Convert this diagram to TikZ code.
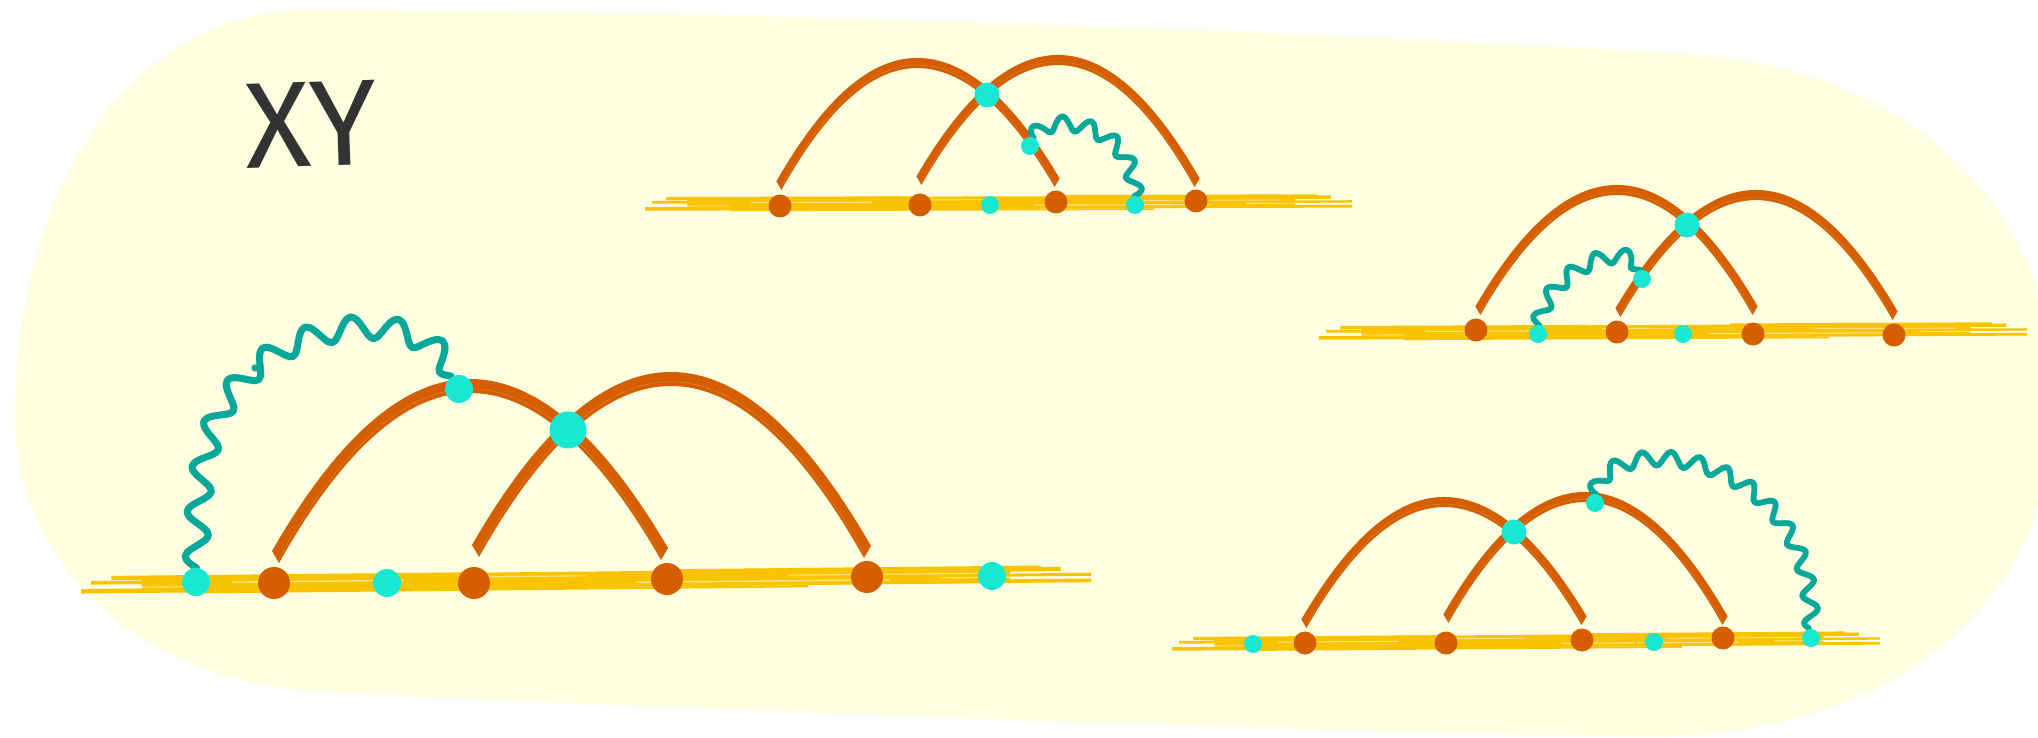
\documentclass[tikz,border=0pt]{standalone}
\usepackage{fontspec}
\newfontfamily\labelfont{Fira Sans}
\usetikzlibrary{calc,decorations}

\definecolor{paper}{HTML}{FEFEE0}
\definecolor{rail}{HTML}{F9C300}
\definecolor{arcorange}{HTML}{D55E00}
\definecolor{vertexcyan}{HTML}{18E8D2}
\definecolor{photon}{HTML}{0AA89B}
\definecolor{ink}{HTML}{333333}

\pgfdeclarelayer{backdrop}
\pgfdeclarelayer{lines}
\pgfsetlayers{backdrop,lines,main}

% a sine wave laid along its path by arc length (whole number of half waves),
% built from closely spaced round beads so that it can simply be filled
\def\beadradius{2.5pt}
\pgfdeclaredecoration{photonbeads}{run}{
  \state{run}[width=1pt]{%
    \pgfmathparse{max(1,round(2*\pgfdecoratedpathlength/\pgfdecorationsegmentlength))}%
    \let\hwaves\pgfmathresult
    \pgfmathsetlengthmacro\wy{\pgfdecorationsegmentamplitude*sin(180*\hwaves*(\pgfdecoratedcompleteddistance/\pgfdecoratedpathlength))}%
    \pgfpathcircle{\pgfpoint{0pt}{\wy}}{\beadradius}%
  }
  \state{final}{\pgfpathcircle{\pgfpointorigin}{\beadradius}}
}

\tikzset{
  odot/.style={circle, fill=arcorange, inner sep=0pt, minimum size=#1},
  cdot/.style={circle, fill=vertexcyan, inner sep=0pt, minimum size=#1},
  bigwave/.style={fill=photon, /utils/exec={\def\beadradius{3.7pt}}, decorate,
    decoration={photonbeads, amplitude=11pt, segment length=44pt}},
  smallwave/.style={fill=photon, /utils/exec={\def\beadradius{3.1pt}}, decorate,
    decoration={photonbeads, amplitude=7pt, segment length=28pt}},
}

% one straight brush hair: fractions #3..#4 of the rail #1--#2, offset #5, width #6, factor #7
\newcommand\railhair[8]{%
  \fill[#8] ($(#1)!#3!(#2)+(0,{((#5)-(#6)/2)*(#7)})$) -- ($(#1)!#4!(#2)+(0,{((#5)-(#6)/2)*(#7)})$)
    -- ($(#1)!#4!(#2)+(0,{((#5)+(#6)/2)*(#7)})$) -- ($(#1)!#3!(#2)+(0,{((#5)+(#6)/2)*(#7)})$) -- cycle;%
}
% brushed horizontal rail between two named coordinates, #3 = thickness factor
\newcommand\railbrush[3]{%
  \foreach \ps/\pe/\po/\pw in {0.06/0.92/0/10, 0/0.52/-4.5/3.2, 0.03/0.38/4.8/3,
      0.3/0.97/4.5/3, 0.46/1/-3.8/2.6, 0.12/0.72/-6/1.6, 0.58/0.95/6.3/1.6,
      0.01/0.2/1.5/2.5, 0.88/1/0.5/2.2}
    {\railhair{#1}{#2}{\ps}{\pe}{\po}{\pw}{#3}{rail}}
  \foreach \ps/\pe/\po/\pw in {0.15/0.32/1/1, 0.55/0.8/-2/1, 0.4/0.5/3/0.8,
      0.7/0.9/2/0.8, 0.03/0.12/-2/0.8, 0.85/0.97/-1/0.8}
    {\railhair{#1}{#2}{\ps}{\pe}{\po}{\pw}{#3}{paper, opacity=0.6}}
}

% band between two half-parabola arches sharing the apex x=#5:
% upper arch #1 -> #2 with apex height #6, lower arch #3 -> #4 with apex height #7
\newcommand\arcband[8]{%
  \fill[#8] let \p1=(#1), \p2=(#2), \p3=(#3), \p4=(#4), \n1={#6}, \n2={#7} in
    (\p1) .. controls ({\x1+(#5-\x1)/3},{\y1+2*(\n1-\y1)/3}) and ({#5-(#5-\x1)/3},{\n1}) .. ({#5},{\n1})
          .. controls ({#5+(\x2-#5)/3},{\n1}) and ({\x2-(\x2-#5)/3},{\y2+2*(\n1-\y2)/3}) .. (\p2)
       -- (\p4) .. controls ({\x4-(\x4-#5)/3},{\y4+2*(\n2-\y4)/3}) and ({#5+(\x4-#5)/3},{\n2}) .. ({#5},{\n2})
          .. controls ({#5-(#5-\x3)/3},{\n2}) and ({\x3+(#5-\x3)/3},{\y3+2*(\n2-\y3)/3}) .. (\p3) -- cycle;%
}
% brushed arch from node #1 (shifted by #2) to node #5 (shifted by #6),
% apex x=#3 at depth #4 below the top edge; #7 = thickness factor
\newcommand\arcbrush[7]{%
  \arcband{$(#1)+(#2)+({-5*(#7)},{12*(#7)})$}{$(#5)+(#6)+({5*(#7)},{12*(#7)})$}
          {$(#1)+(#2)+({2*(#7)},0)$}{$(#5)+(#6)+({-2*(#7)},0)$}
          {#3}{-(#4)+7*(#7)}{-(#4)-7*(#7)}{arcorange}
  \arcband{$(#1)+(#2)+({0.5*(#7)},{2*(#7)})$}{$(#5)+(#6)+({-0.5*(#7)},{2*(#7)})$}
          {$(#1)+(#2)+({1*(#7)},{2*(#7)})$}{$(#5)+(#6)+({-1*(#7)},{2*(#7)})$}
          {#3}{-(#4)-2.5*(#7)}{-(#4)-3.1*(#7)}{paper, opacity=0.22}
}

\begin{document}
\begin{tikzpicture}[x=1pt,y=1pt]
\useasboundingbox (0,-738) rectangle (2038,0);

% ---------- rounded backdrop ----------
\begin{pgfonlayer}{backdrop}
\fill[paper] (310,-9) .. controls (800,-12) and (1400,-35) .. (1700,-55)
  .. controls (1900,-70) and (2055,-200) .. (2055,-400)
  .. controls (2055,-600) and (1900,-735) .. (1650,-737)
  .. controls (1200,-730) and (600,-705) .. (330,-693)
  .. controls (100,-680) and (15,-530) .. (15,-420)
  .. controls (15,-200) and (120,-12) .. (310,-9) -- cycle;

\coordinate (a-l) at (81,-585);   \coordinate (a-r) at (1091,-575);
\coordinate (b-l) at (645,-204);  \coordinate (b-r) at (1352,-202);
\coordinate (r-l) at (1319,-333); \coordinate (r-r) at (2027,-330);
\coordinate (d-l) at (1172,-644); \coordinate (d-r) at (1880,-639);
\railbrush{a-l}{a-r}{1.4}
\railbrush{b-l}{b-r}{1.1}
\railbrush{r-l}{r-r}{1.1}
\railbrush{d-l}{d-r}{1.1}
\end{pgfonlayer}

% ---------- title ----------
\node[text=ink, font=\labelfont\fontsize{122}{122}\selectfont, inner sep=0pt, rotate=2]
  (title) at (311,-124) {XY};

% ---------- large diagram ----------
\node[cdot=28pt] (a-c1) at (196,-582) {};
\node[odot=32pt] (a-o1) at (274,-583) {};
\node[cdot=28pt] (a-c2) at (387,-583) {};
\node[odot=32pt] (a-o2) at (474,-583) {};
\node[odot=32pt] (a-o3) at (667,-579) {};
\node[odot=32pt] (a-o4) at (867,-577) {};
\node[cdot=28pt] (a-c3) at (992,-576) {};
\node[cdot=37pt] (a-x) at (568,-430) {};
\node[cdot=28pt] (a-t) at (459,-389) {};

% ---------- upper diagram ----------
\node[odot=23pt] (b-o1) at (780,-206) {};
\node[odot=23pt] (b-o2) at (920,-205) {};
\node[cdot=18pt] (b-c1) at (990,-205) {};
\node[odot=23pt] (b-o3) at (1056,-202) {};
\node[cdot=18pt] (b-c2) at (1135,-205) {};
\node[odot=23pt] (b-o4) at (1196,-201) {};
\node[cdot=25pt] (b-x) at (987,-95) {};
\node[cdot=18pt] (b-t) at (1030,-146) {};

% ---------- right diagram ----------
\node[odot=23pt] (r-o1) at (1476,-330) {};
\node[cdot=18pt] (r-c1) at (1538,-334) {};
\node[odot=23pt] (r-o2) at (1617,-332) {};
\node[cdot=18pt] (r-c2) at (1683,-334) {};
\node[odot=23pt] (r-o3) at (1753,-334) {};
\node[odot=23pt] (r-o4) at (1894,-335) {};
\node[cdot=25pt] (r-x) at (1687,-225) {};
\node[cdot=18pt] (r-t) at (1642,-279) {};

% ---------- lower right diagram ----------
\node[cdot=18pt] (d-c1) at (1253,-644) {};
\node[odot=23pt] (d-o1) at (1305,-643) {};
\node[odot=23pt] (d-o2) at (1446,-643) {};
\node[odot=23pt] (d-o3) at (1582,-640) {};
\node[cdot=18pt] (d-c2) at (1654,-642) {};
\node[odot=23pt] (d-o4) at (1723,-638) {};
\node[cdot=18pt] (d-c3) at (1811,-638) {};
\node[cdot=25pt] (d-x) at (1514,-532) {};
\node[cdot=18pt] (d-t) at (1595,-503) {};

% ---------- arches and photon lines ----------
\begin{pgfonlayer}{lines}
\arcbrush{a-o1}{3,20}{470}{386}{a-o3}{-4,19}{1}
\arcbrush{a-o2}{3,26}{671}{379}{a-o4}{-1,19}{1}
\fill[bigwave] (a-c1) .. controls (198,-470) and (205,-410) .. (255,-368)
  .. controls (310,-320) and (425,-305) .. (a-t);

\arcbrush{b-o1}{0,16}{917}{63}{b-o3}{0,15}{0.72}
\arcbrush{b-o2}{0,20}{1058}{60}{b-o4}{0,14}{0.72}
\fill[smallwave] (b-t) .. controls (1045,-110) and (1135,-120) .. (b-c2);

\arcbrush{r-o1}{3,15}{1617}{190}{r-o3}{1,19}{0.72}
\arcbrush{r-o2}{2,15}{1756}{195}{r-o4}{0,15}{0.72}
\fill[smallwave] (r-c1) .. controls (1545,-270) and (1630,-235) .. (r-t);

\arcbrush{d-o1}{0,15}{1444}{502}{d-o3}{1,15}{0.72}
\arcbrush{d-o2}{1,20}{1585}{497}{d-o4}{1,13}{0.72}
\fill[smallwave] (d-t) .. controls (1600,-430) and (1815,-440) .. (d-c3);
\end{pgfonlayer}
\end{tikzpicture}
\end{document}
